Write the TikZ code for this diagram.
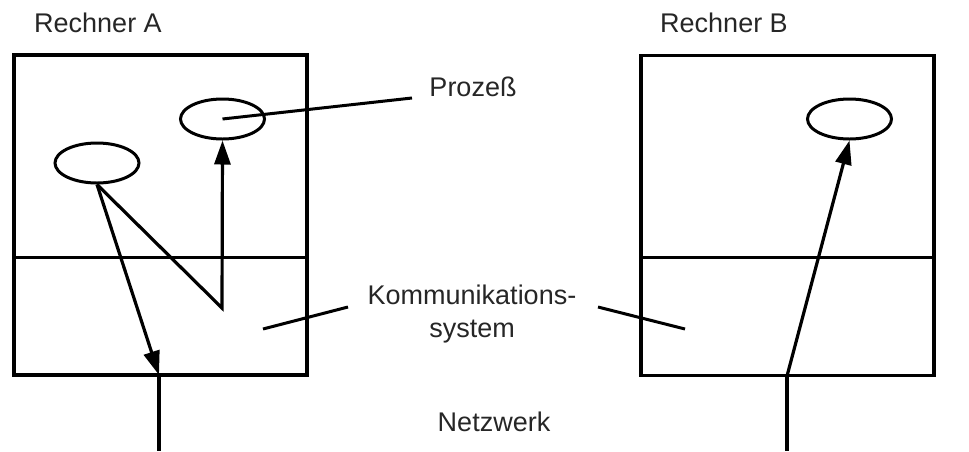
\documentclass[tikz,border=0pt]{standalone}
\usepackage{fontspec}
\setmainfont{Liberation Sans}
\usetikzlibrary{arrows.meta,shapes.geometric}
\begin{document}
\begin{tikzpicture}[x=1pt,y=-1pt,
  every node/.style={font=\fontsize{27}{33}\selectfont},
  host/.style={draw,line width=3.8pt,rectangle,minimum width=293pt,minimum height=320pt,inner sep=0pt},
  proc/.style={draw,line width=3pt,ellipse,minimum width=84pt,minimum height=40pt,inner sep=0pt},
  sep/.style={line width=3pt},
  flow/.style={line width=3.2pt,line join=miter,-{Triangle[length=24pt,width=16pt]}},
  wire/.style={line width=3.4pt},
  pointer/.style={line width=3pt},
  lbl/.style={inner sep=0pt,align=center,text=black!85}]
\useasboundingbox (0,0) rectangle (969,451);

% the two hosts
\node[host] (boxA) at (160.5,215) {};
\node[host] (boxB) at (787.5,215.5) {};
\draw[sep] (boxA.west |- 0,257) coordinate (dA1) -- (boxA.east |- 0,257) coordinate (dA2);
\draw[sep] (boxB.west |- 0,257) coordinate (dB1) -- (boxB.east |- 0,257) coordinate (dB2);

% processes
\node[proc] (pA1) at (97,163) {};
\node[proc] (pA2) at (222.5,119) {};
\node[proc] (pB) at (849.5,119) {};

% labels
\node[lbl] (rA) at (98,23) {Rechner A};
\node[lbl] (rB) at (724,23) {Rechner B};
\node[lbl] (proz) at (473,87) {Prozeß};
\node[lbl] (komm) at (472,314) {Kommunikations-\\system};
\node[lbl] (netz) at (494,422) {Netzwerk};

% network attachment points
\coordinate (nA) at (159,375);
\coordinate (nAend) at (159,451);
\coordinate (nB) at (787,376);
\coordinate (nBend) at (787,451);
\coordinate (turnA) at (222,308);

% message flows
\draw[flow] (pA1.south) -- (turnA) -- (pA2.south);
\draw[flow] (pA1.south) -- (nA);
\draw[flow] (nB) -- (pB.south);
\draw[wire] (nA) -- (nAend);
\draw[wire] (nB) -- (nBend);

% label pointers
\coordinate (pzEnd) at (412,98);
\coordinate (kL) at (263,329);
\coordinate (kLend) at (348,307);
\coordinate (kR) at (598,307);
\coordinate (kRend) at (685,329);
\draw[pointer] (pA2.center) -- (pzEnd);
\draw[pointer] (kL) -- (kLend);
\draw[pointer] (kR) -- (kRend);
\end{tikzpicture}
\end{document}
